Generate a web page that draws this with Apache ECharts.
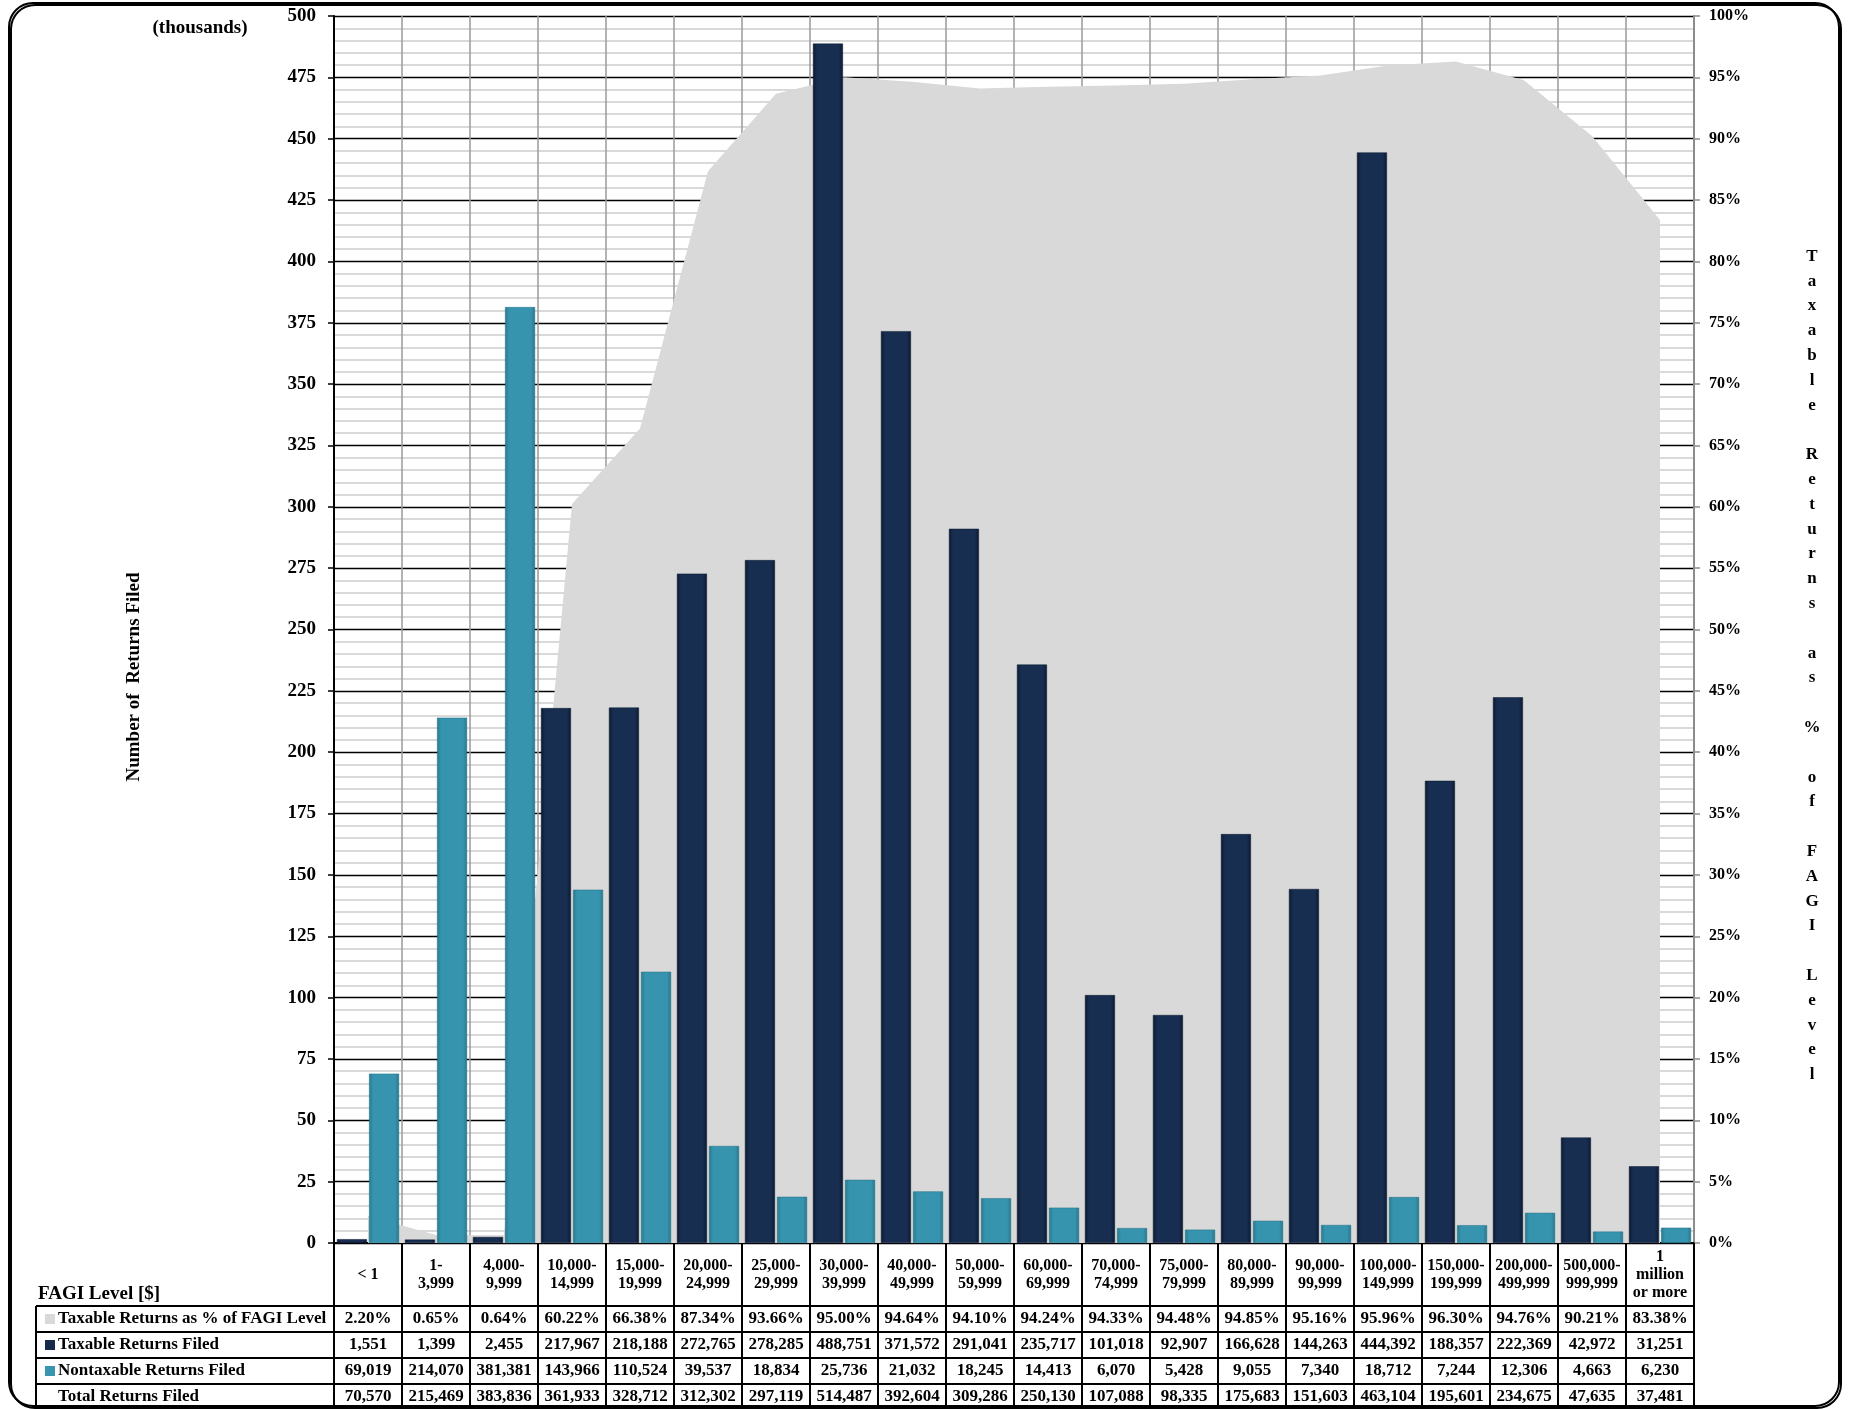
<!DOCTYPE html>
<html>
<head>
<meta charset="utf-8">
<script src="https://cdn.jsdelivr.net/npm/echarts@6/dist/echarts.min.js"></script>
<style>
html,body{margin:0;padding:0;background:#fff;}
#chart{width:1851px;height:1409px;}
</style>
</head>
<body>
<div id="chart"></div>
<script>
const categories = ['< 1', '1-\n3,999', '4,000-\n9,999', '10,000-\n14,999', '15,000-\n19,999', '20,000-\n24,999', '25,000-\n29,999', '30,000-\n39,999', '40,000-\n49,999', '50,000-\n59,999', '60,000-\n69,999', '70,000-\n74,999', '75,000-\n79,999', '80,000-\n89,999', '90,000-\n99,999', '100,000-\n149,999', '150,000-\n199,999', '200,000-\n499,999', '500,000-\n999,999', '1\nmillion\nor more'];
const pctTaxable = [2.20, 0.65, 0.64, 60.22, 66.38, 87.34, 93.66, 95.00, 94.64, 94.10, 94.24, 94.33, 94.48, 94.85, 95.16, 95.96, 96.30, 94.76, 90.21, 83.38];
const taxable = [1551, 1399, 2455, 217967, 218188, 272765, 278285, 488751, 371572, 291041, 235717, 101018, 92907, 166628, 144263, 444392, 188357, 222369, 42972, 31251];
const nontaxable = [69019, 214070, 381381, 143966, 110524, 39537, 18834, 25736, 21032, 18245, 14413, 6070, 5428, 9055, 7340, 18712, 7244, 12306, 4663, 6230];
const totals = [70570, 215469, 383836, 361933, 328712, 312302, 297119, 514487, 392604, 309286, 250130, 107088, 98335, 175683, 151603, 463104, 195601, 234675, 47635, 37481];
const rowLabels = ['Taxable Returns as % of FAGI Level', 'Taxable Returns Filed', 'Nontaxable Returns Filed', 'Total Returns Filed'];
const rowMarkerColors = ['#d9d9d9', '#15294a', '#3896b0', null];

const FONT = "'Liberation Serif', 'Times New Roman', serif";
const fmtInt = v => v.toLocaleString('en-US');
const fmtPct = v => v.toFixed(2) + '%';

const chart = echarts.init(document.getElementById('chart'));

const GRID = {left: 334, right: 157, top: 16, bottom: 166};
const plotBottom = 1409 - GRID.bottom;          // 1243
const rowLines = [1306, 1332, 1358, 1384, 1410];

function rowAxis(data, center) {
  return {
    type: 'category', gridIndex: 0, position: 'bottom', data: data,
    axisLine: {show: false}, axisTick: {show: false}, splitLine: {show: false},
    axisLabel: {interval: 0, margin: center - plotBottom, verticalAlign: 'middle',
      fontFamily: FONT, fontWeight: 'bold', fontSize: 17, color: '#000'}
  };
}

const darkGrad = {type: 'linear', x: 0, y: 0, x2: 1, y2: 0, colorStops: [
  {offset: 0, color: '#0b1a32'}, {offset: 0.14, color: '#172e50'},
  {offset: 0.86, color: '#172e50'}, {offset: 1, color: '#0b1a32'}]};
const tealGrad = {type: 'linear', x: 0, y: 0, x2: 1, y2: 0, colorStops: [
  {offset: 0, color: '#287890'}, {offset: 0.14, color: '#3794ae'},
  {offset: 0.86, color: '#3794ae'}, {offset: 1, color: '#287890'}]};

const graphics = [];
// outer rounded border
graphics.push({type: 'rect', shape: {x: 9, y: 3, width: 1830, height: 1403, r: 24},
  style: {fill: 'none', stroke: '#000', lineWidth: 2, shadowColor: '#000', shadowOffsetX: 2, shadowOffsetY: 2, shadowBlur: 0}, z: 100});
// table horizontal lines
rowLines.slice(0, 4).forEach(y => {
  graphics.push({type: 'line', shape: {x1: 36, y1: y, x2: 1694, y2: y}, style: {stroke: '#000', lineWidth: 2}, z: 50});
});
// legend column left border
graphics.push({type: 'line', shape: {x1: 36, y1: 1306, x2: 36, y2: 1410}, style: {stroke: '#000', lineWidth: 2}, z: 50});
// row labels and markers
rowLabels.forEach((t, i) => {
  const cy = (rowLines[i] + rowLines[i + 1]) / 2;
  if (rowMarkerColors[i]) {
    graphics.push({type: 'rect', shape: {x: 45, y: cy - 5, width: 10, height: 10}, style: {fill: rowMarkerColors[i]}, z: 50});
  }
  graphics.push({type: 'text', x: 58, y: cy, style: {text: t, fontFamily: FONT, fontWeight: 'bold', fontSize: 17, fill: '#000', align: 'left', verticalAlign: 'middle'}, z: 50});
});
graphics.push({type: 'text', x: 38, y: 1304, style: {text: 'FAGI Level [$]', fontFamily: FONT, fontWeight: 'bold', fontSize: 19, fill: '#000', align: 'left', verticalAlign: 'bottom'}, z: 50});
graphics.push({type: 'text', x: 200, y: 28, style: {text: '(thousands)', fontFamily: FONT, fontWeight: 'bold', fontSize: 19, fill: '#000', align: 'center', verticalAlign: 'middle'}, z: 50});
graphics.push({type: 'text', x: 134, y: 677, rotation: Math.PI / 2, style: {text: 'Number of  Returns Filed', fontFamily: FONT, fontWeight: 'bold', fontSize: 19, fill: '#000', align: 'center', verticalAlign: 'middle'}, z: 50});
graphics.push({type: 'text', x: 1812, y: 244, style: {text: 'Taxable Returns as % of FAGI Level'.split('').join('\n'), fontFamily: FONT, fontWeight: 'bold', fontSize: 17, lineHeight: 24.8, fill: '#000', align: 'center', verticalAlign: 'top'}, z: 50});

const option = {
  backgroundColor: '#ffffff',
  animation: false,
  grid: GRID,
  xAxis: [
    {
      type: 'category', gridIndex: 0, position: 'bottom', data: categories,
      axisLine: {show: true, lineStyle: {color: '#000', width: 2}},
      axisTick: {show: true, inside: false, length: 167, lineStyle: {color: '#000', width: 2}},
      splitLine: {show: true, lineStyle: {color: '#9a9a9a', width: 1.5}},
      axisLabel: {interval: 0, margin: 31.5, verticalAlign: 'middle', lineHeight: 18,
        fontFamily: FONT, fontWeight: 'bold', fontSize: 16, color: '#000'}
    },
    rowAxis(pctTaxable.map(fmtPct), 1319),
    rowAxis(taxable.map(fmtInt), 1345),
    rowAxis(nontaxable.map(fmtInt), 1371),
    rowAxis(totals.map(fmtInt), 1397)
  ],
  yAxis: [
    {
      type: 'value', min: 0, max: 500000, interval: 25000, position: 'left',
      axisLine: {show: true, lineStyle: {color: '#000', width: 2}},
      axisTick: {show: true, length: 6, lineStyle: {color: '#000', width: 1.5}},
      axisLabel: {margin: 18, fontFamily: FONT, fontWeight: 'bold', fontSize: 19, color: '#000',
        formatter: v => String(v / 1000)},
      splitLine: {show: true, lineStyle: {color: '#000', width: 1.3}},
      minorTick: {show: false, splitNumber: 5},
      minorSplitLine: {show: true, lineStyle: {color: '#d9d9d9', width: 2}}
    },
    {
      type: 'value', min: 0, max: 100, interval: 5, position: 'right',
      axisLine: {show: true, lineStyle: {color: '#8c8c8c', width: 2}},
      axisTick: {show: true, length: 6, lineStyle: {color: '#8c8c8c', width: 1.5}},
      axisLabel: {margin: 15, fontFamily: FONT, fontWeight: 'bold', fontSize: 16, color: '#000',
        formatter: '{value}%'},
      splitLine: {show: false}
    }
  ],
  series: [
    {
      name: 'Taxable Returns as % of FAGI Level', type: 'line', xAxisIndex: 0, yAxisIndex: 1,
      data: pctTaxable, symbol: 'none', smooth: false, z: 1,
      lineStyle: {width: 0, color: '#d9d9d9'},
      areaStyle: {color: '#d9d9d9', opacity: 1}
    },
    {
      name: 'Taxable Returns Filed', type: 'bar', xAxisIndex: 0, yAxisIndex: 0, z: 5,
      data: taxable, barWidth: 30, barGap: '7%',
      itemStyle: {color: darkGrad, borderColor: '#0a1830', borderWidth: 0.5}
    },
    {
      name: 'Nontaxable Returns Filed', type: 'bar', xAxisIndex: 0, yAxisIndex: 0, z: 5,
      data: nontaxable, barWidth: 30, barGap: '7%',
      itemStyle: {color: tealGrad, borderColor: '#256f86', borderWidth: 0.5}
    }
  ],
  graphic: graphics
};
chart.setOption(option);
</script>
</body>
</html>
